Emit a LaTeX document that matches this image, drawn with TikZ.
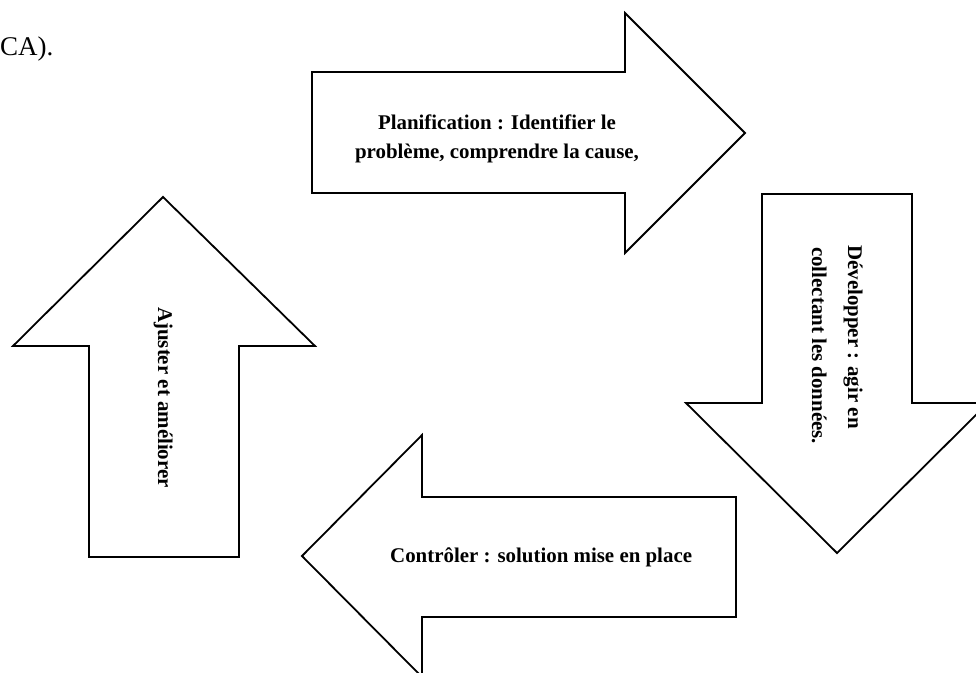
\documentclass[tikz,border=0pt]{standalone}
\usepackage{fontspec}
\setmainfont{Liberation Serif}
\begin{document}
\begin{tikzpicture}[x=1pt,y=-1pt,
  bigarrow/.style={draw=black, line width=1.8pt, fill=white, line join=miter},
  lbl/.style={font=\bfseries\fontsize{20.9}{29}\selectfont, inner sep=0pt},
  bodytext/.style={font=\fontsize{27}{32}\selectfont, inner sep=0pt}]
\useasboundingbox (0,0) rectangle (976,672);
\clip (0,0) rectangle (976,672);
\fill[white] (0,0) rectangle (976,672);

% end of the sentence that precedes the figure
\node[bodytext, anchor=base west] (prev) at (0,55) {CA).};

% Plan: arrow pointing right
\draw[bigarrow] (312,72) -- (625,72) -- (625,13) -- (745,133) -- (625,253)
  -- (625,193) -- (312,193) -- cycle;
\node[lbl, anchor=base] (planA) at (497,129) {Planification : Identifier le};
\node[lbl, anchor=base] (planB) at (497,158) {problème, comprendre la cause,};

% Do: arrow pointing down
\draw[bigarrow] (762,194) -- (912,194) -- (912,403) -- (988,403) -- (837,553)
  -- (686,403) -- (762,403) -- cycle;
\node[lbl, rotate=-90, anchor=base west] (doA) at (848,245) {Développer : agir en};
\node[lbl, rotate=-90, anchor=base west] (doB) at (812,247) {collectant les données.};

% Check: arrow pointing left
\draw[bigarrow] (736,497) -- (736,617) -- (422,617) -- (422,677) -- (302,556)
  -- (422,435) -- (422,497) -- cycle;
\node[lbl, anchor=base west] (check) at (390,562) {Contrôler : solution mise en place};

% Act: arrow pointing up
\draw[bigarrow] (89,557) -- (89,346) -- (13,346) -- (163,197) -- (315,346)
  -- (239,346) -- (239,557) -- cycle;
\node[lbl, rotate=-90, anchor=base west] (act) at (158,307) {Ajuster et améliorer};
\end{tikzpicture}
\end{document}
